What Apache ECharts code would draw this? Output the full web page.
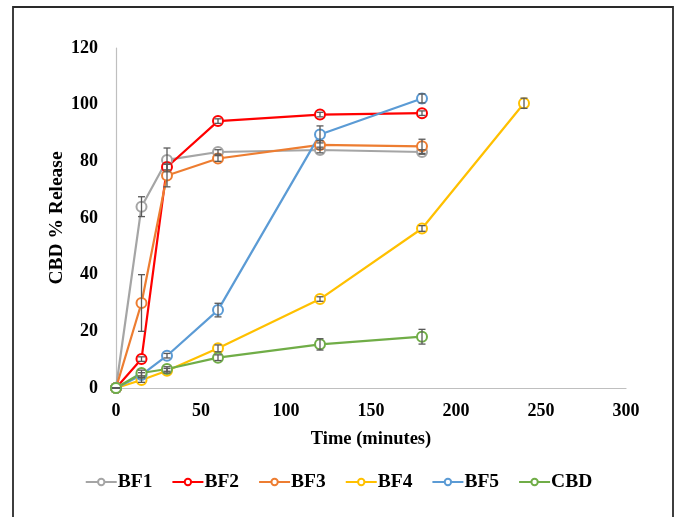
<!DOCTYPE html>
<html>
<head>
<meta charset="utf-8">
<script src="https://cdn.jsdelivr.net/npm/echarts@6/dist/echarts.min.js"></script>
<style>
  html, body { margin: 0; padding: 0; background: #fff; }
  #chart { width: 677px; height: 517px; }
</style>
</head>
<body>
<div id="chart"></div>
<script>
// Sampling times (minutes)
const times = [0, 15, 30, 60, 120, 180, 240];

// Cumulative release (%) per formulation
const bf1 = [0, 64, 80.5, 83.3, 84, 83.3];
const bf2 = [0, 10.2, 78, 94.2, 96.5, 97];
const bf3 = [0, 30, 75, 81, 85.8, 85.3];
const bf4 = [0, 2.8, 6.1, 14, 31.4, 56.3, 100.5];
const bf5 = [0, 4.6, 11.4, 27.5, 89.5, 102.2];
const cbd = [0, 5.3, 6.7, 10.7, 15.4, 18.1];

// Standard deviations
const bf1Sd = [0, 3.5, 4.2, 0.8, 1, 0.8];
const bf2Sd = [0, 0.8, 1, 0.8, 0.8, 0.8];
const bf3Sd = [0, 10, 4, 1, 1.5, 2.5];
const bf4Sd = [0, 0.8, 0.8, 1.2, 0.8, 1, 1.8];
const bf5Sd = [0, 0.8, 0.8, 2.4, 3, 1.6];
const cbdSd = [0, 1, 0.8, 1, 2, 2.6];

// Axis ticks
const xTicks = { min: 0, max: 300, step: 50 };
const yTicks = { min: 0, max: 120, step: 20 };

const seriesDefs = [
  { name: 'BF1', values: bf1, sd: bf1Sd, color: '#A5A5A5' },
  { name: 'BF2', values: bf2, sd: bf2Sd, color: '#FF0000' },
  { name: 'BF3', values: bf3, sd: bf3Sd, color: '#ED7D31' },
  { name: 'BF4', values: bf4, sd: bf4Sd, color: '#FFC000' },
  { name: 'BF5', values: bf5, sd: bf5Sd, color: '#5B9BD5' },
  { name: 'CBD', values: cbd, sd: cbdSd, color: '#70AD47' }
];

const fontFamily = '"Liberation Serif", "Times New Roman", serif';

function errorBarSeries(def) {
  const data = def.values.map((v, i) => [times[i], v - def.sd[i], v + def.sd[i]]);
  return {
    type: 'custom',
    name: def.name + ' SD',
    silent: true,
    z: 3,
    renderItem: function (params, api) {
      const x = api.value(0);
      const lo = api.coord([x, api.value(1)]);
      const hi = api.coord([x, api.value(2)]);
      const cap = 3.5;
      const style = { stroke: '#595959', lineWidth: 1.3, fill: null };
      return {
        type: 'group',
        children: [
          { type: 'line', shape: { x1: lo[0], y1: lo[1], x2: hi[0], y2: hi[1] }, style: style },
          { type: 'line', shape: { x1: lo[0] - cap, y1: lo[1], x2: lo[0] + cap, y2: lo[1] }, style: style },
          { type: 'line', shape: { x1: hi[0] - cap, y1: hi[1], x2: hi[0] + cap, y2: hi[1] }, style: style }
        ]
      };
    },
    encode: { x: 0, y: [1, 2] },
    data: data
  };
}

const series = [];
seriesDefs.forEach(def => {
  series.push({
    type: 'line',
    name: def.name,
    data: def.values.map((v, i) => [times[i], v]),
    symbol: 'emptyCircle',
    symbolSize: 10,
    color: def.color,
    lineStyle: { width: 2.2, color: def.color },
    itemStyle: { color: def.color, borderWidth: 1.5 },
    z: 2
  });
});
seriesDefs.forEach(def => series.push(errorBarSeries(def)));

const chart = echarts.init(document.getElementById('chart'), null, { renderer: 'canvas' });
chart.setOption({
  animation: false,
  backgroundColor: '#fff',
  graphic: [{
    type: 'rect',
    shape: { x: 13, y: 7, width: 660, height: 530 },
    style: { fill: null, stroke: '#2a2a2a', lineWidth: 1.8 },
    silent: true
  }],
  grid: { left: 116, right: 51, top: 48, bottom: 129, containLabel: false },
  legend: {
    data: seriesDefs.map(d => d.name),
    bottom: 20,
    left: 'center',
    itemWidth: 31,
    itemHeight: 8,
    itemGap: 19,
    textStyle: { fontFamily: fontFamily, fontWeight: 'bold', fontSize: 19.5, color: '#000', padding: [0, 0, 0, -4] }
  },
  xAxis: {
    type: 'value',
    min: xTicks.min, max: xTicks.max, interval: xTicks.step,
    name: 'Time (minutes)',
    nameLocation: 'middle',
    nameGap: 42,
    nameMoveOverlap: false,
    nameTextStyle: { fontFamily: fontFamily, fontWeight: 'bold', fontSize: 18.5, color: '#000' },
    axisLine: { show: true, lineStyle: { color: '#BFBFBF', width: 1.2 } },
    axisTick: { show: false },
    splitLine: { show: false },
    axisLabel: { margin: 14, fontFamily: fontFamily, fontWeight: 'bold', fontSize: 18, color: '#000' }
  },
  yAxis: {
    type: 'value',
    min: yTicks.min, max: yTicks.max, interval: yTicks.step,
    name: 'CBD % Release',
    nameLocation: 'middle',
    nameRotate: 90,
    nameGap: 49,
    nameMoveOverlap: false,
    nameTextStyle: { fontFamily: fontFamily, fontWeight: 'bold', fontSize: 19.5, color: '#000' },
    axisLine: { show: true, lineStyle: { color: '#BFBFBF', width: 1.2 } },
    axisTick: { show: false },
    splitLine: { show: false },
    axisLabel: { margin: 18, fontFamily: fontFamily, fontWeight: 'bold', fontSize: 18, color: '#000' }
  },
  series: series
});
</script>
</body>
</html>
